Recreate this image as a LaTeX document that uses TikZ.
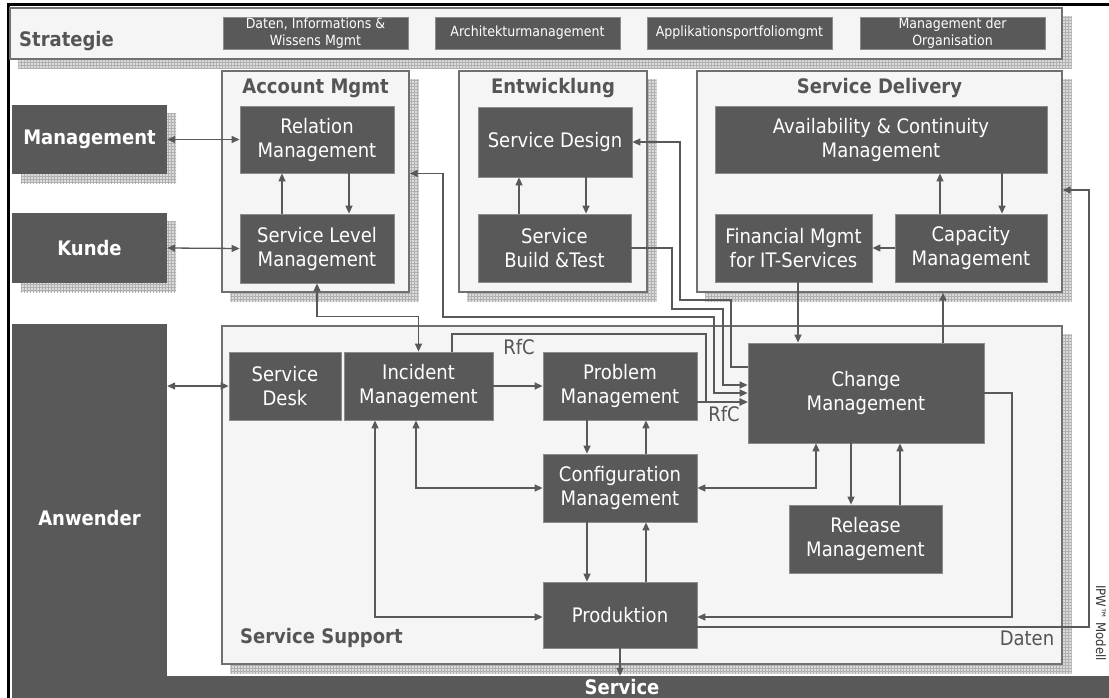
\documentclass[tikz,border=0pt]{standalone}
\usepackage{fontspec}
\setmainfont{DejaVu Sans}[FakeStretch=0.9]
\usetikzlibrary{arrows.meta,patterns,backgrounds}

\definecolor{boxdark}{HTML}{595959}
\definecolor{hdr}{HTML}{555555}
\definecolor{panel}{HTML}{F5F5F5}
\definecolor{panelline}{HTML}{707070}
\definecolor{shadebg}{HTML}{DCDCDC}
\definecolor{shadeline}{HTML}{B0B0B0}
\definecolor{wirecol}{HTML}{595959}

\tikzset{
  panelbox/.style={draw=panelline, fill=panel, line width=1.4pt, inner sep=0pt},
  darkbox/.style={draw=black!45, fill=boxdark, line width=0.8pt, text=white, align=center,
    font=\fontsize{20}{24}\selectfont, inner sep=0pt},
  sbox/.style={darkbox, font=\fontsize{14}{17}\selectfont, minimum width=185, minimum height=32},
  hdrtext/.style={text=hdr, font=\bfseries\fontsize{20}{24}\selectfont, inner sep=0pt},
  sidebox/.style={fill=boxdark, text=white, font=\bfseries\fontsize{20}{24}\selectfont, inner sep=0pt},
  lbl/.style={text=hdr, font=\fontsize{20}{24}\selectfont, inner sep=0pt},
  wire/.style={draw=wirecol, line width=1.3pt, -{Triangle[length=8pt,width=7pt]}},
  wire2/.style={draw=wirecol, line width=1.3pt,
    {Triangle[length=8pt,width=7pt]}-{Triangle[length=8pt,width=7pt]}},
  dropshade/.style={preaction={fill=shadebg}, pattern=grid, pattern color=shadeline},
}

\begin{document}
\begin{tikzpicture}[x=1pt,y=-1pt]
\useasboundingbox (0,0) rectangle (1109,698);
\begin{scope}[on background layer]
  \fill[white] (0,0) rectangle (1109,698);
\end{scope}

% outer frame
\draw[black, line width=3pt] (8.5,698) -- (8.5,5) -- (1109,5);

% strategy bar
\node[panelbox, minimum width=1052, minimum height=51] (strat) at (536,33.5) {};
\node[hdrtext, anchor=west] (strattxt) at (19,41) {Strategie};
\node[sbox] (s1) at (315.5,33) {Daten, Informations \&\\Wissens Mgmt};
\node[sbox] (s2) at (527.5,33) {Architekturmanagement};
\node[sbox] (s3) at (739.5,33) {Applikationsportfoliomgmt};
\node[sbox] (s4) at (952.5,33) {Management der\\Organisation};

% process groups
\node[panelbox, minimum width=187, minimum height=221] (acc) at (315.5,181.5) {};
\node[hdrtext] (acctxt) at (315.5,88) {Account Mgmt};
\node[panelbox, minimum width=188, minimum height=221] (ent) at (553,181.5) {};
\node[hdrtext] (enttxt) at (553,88) {Entwicklung};
\node[panelbox, minimum width=365, minimum height=221] (sd) at (879.5,181.5) {};
\node[hdrtext] (sdtxt) at (879.5,88) {Service Delivery};
\node[panelbox, minimum width=840, minimum height=338] (ss) at (642,495) {};
\node[hdrtext, anchor=west] (sstxt) at (240,638) {Service Support};

% stakeholders and service bar
\node[sidebox, minimum width=155, minimum height=69] (mgmt) at (89.5,139.5) {Management};
\node[sidebox, minimum width=155, minimum height=70] (kunde) at (89.5,248) {Kunde};
\node[sidebox, minimum width=974, minimum height=22] (svc) at (622,687) {Service};
\node[sidebox, minimum width=155, minimum height=388] (anw) at (89.5,518) {Anwender};

% processes
\node[darkbox, minimum width=154, minimum height=67] (rm) at (317,139.5) {Relation\\Management};
\node[darkbox, minimum width=154, minimum height=69] (slm) at (317,248.5) {Service Level\\Management};
\node[darkbox, minimum width=154, minimum height=70] (design) at (555,142) {Service Design};
\node[darkbox, minimum width=153, minimum height=68] (build) at (554.5,248) {Service\\Build \&Test};
\node[darkbox, minimum width=332, minimum height=67] (avail) at (881,139.5) {Availability \& Continuity\\Management};
\node[darkbox, minimum width=157, minimum height=68] (fin) at (793.5,248) {Financial Mgmt\\for IT-Services};
\node[darkbox, minimum width=152, minimum height=68] (cap) at (971,248) {Capacity\\Management};
\node[darkbox, minimum width=112, minimum height=68] (sdesk) at (285,386) {Service\\Desk};
\node[darkbox, minimum width=149, minimum height=68] (inc) at (418.5,386) {Incident\\Management};
\node[darkbox, minimum width=154, minimum height=68] (prob) at (620,386) {Problem\\Management};
\node[darkbox, minimum width=236, minimum height=100] (cm) at (866,393) {Change\\Management};
\node[darkbox, minimum width=154, minimum height=68] (conf) at (620,488) {Configuration\\Management};
\node[darkbox, minimum width=153, minimum height=68] (rel) at (865.5,539) {Release\\Management};
\node[darkbox, minimum width=154, minimum height=66] (prod) at (620,615) {Produktion};

% labels
\node[lbl] (rfc1) at (519,347) {RfC};
\node[lbl] (rfc2) at (724,414) {RfC};
\node[lbl] (daten) at (1027,638) {Daten};
\node[text=black!80, font=\fontsize{13}{15}\selectfont, rotate=-90, inner sep=0pt] (ipw) at (1101,623) {IPW™ Modell};

% drop shadows
\begin{scope}[on background layer]
  \foreach \n in {strat,acc,ent,sd,ss,mgmt,kunde}
    \path[dropshade] ([shift={(9pt,-9pt)}]\n.south west) rectangle ([shift={(9pt,-9pt)}]\n.north east);
\end{scope}

% account management
\draw[wire2] (mgmt.east) -- (rm.west);
\draw[wire2] (kunde.east) -- (slm.west);
\draw[wire] (slm.north -| 282,0) -- (rm.south -| 282,0);
\draw[wire] (rm.south -| 349,0) -- (slm.north -| 349,0);

% development
\draw[wire] (build.north -| 519,0) -- (design.south -| 519,0);
\draw[wire] (design.south -| 586,0) -- (build.north -| 586,0);

% service delivery
\draw[wire] (cap.north -| 940,0) -- (avail.south -| 940,0);
\draw[wire] (avail.south -| 1002,0) -- (cap.north -| 1002,0);
\draw[wire] (cap.west) -- (fin.east);
\draw[wire] (fin.south -| 798,0) -- (cm.north -| 798,0);
\draw[wire] (cm.north -| 943,0) -- (sd.south -| 943,0);

% links into change management
\draw[wire2] (acc.east |- rm.south) -| (443,317) -| (714,393) -- (cm.west);
\draw[wire] (cm.west |- 0,367) -| (731,300) -| (680,142) -- (design.east);
\draw[wire] (build.east) -| (672,309) -| (723,385) -- (cm.west |- 0,385);
\draw[wire] (inc.north -| 452,0) |- (706,334) |- (cm.west |- 0,402);
\draw[wire] (prob.east |- 0,402) -- (cm.west |- 0,402);

% service support
\draw[wire2] (sdesk.west -| anw.east) -- (sdesk.west);
\draw[wire2] (slm.south) -- ++(0,33) -| (inc.north);
\draw[wire] (inc.east) -- (prob.west);
\draw[wire] (prob.south -| 587,0) -- (conf.north -| 587,0);
\draw[wire] (conf.north -| 646,0) -- (prob.south -| 646,0);
\draw[wire] (conf.south -| 587,0) -- (prod.north -| 587,0);
\draw[wire] (prod.north -| 646,0) -- (conf.south -| 646,0);
\draw[wire2] (inc.south -| 416,0) |- (conf.west);
\draw[wire2] (inc.south -| 375,0) |- (prod.west |- 0,617);
\draw[wire2] (conf.east) -| (cm.south -| 816,0);
\draw[wire] (cm.south -| 851,0) -- (rel.north -| 851,0);
\draw[wire] (rel.north -| 900,0) -- (cm.south -| 900,0);
\draw[wire] (cm.east) -| (1012,617) -- (prod.east |- 0,617);
\draw[wire] (prod.east |- 0,627) -| (1089,190) -- (sd.east |- 0,190);
\draw[wire] (prod.south) -- (prod.south |- svc.north);
\end{tikzpicture}
\end{document}
